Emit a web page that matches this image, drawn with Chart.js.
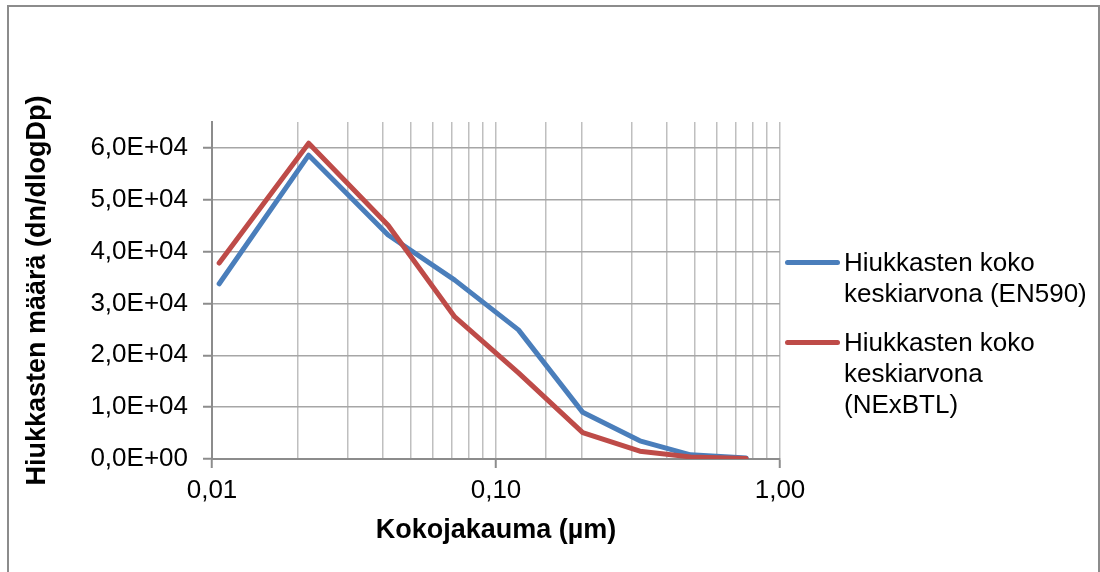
<!DOCTYPE html>
<html>
<head>
<meta charset="utf-8">
<script src="https://cdn.jsdelivr.net/npm/chart.js@4/dist/chart.umd.min.js"></script>
<style>
  html, body { margin: 0; padding: 0; background: #ffffff; }
  #wrap { position: relative; width: 1100px; height: 572px; overflow: hidden; }
  #frame { position: absolute; left: 7px; top: 5px; width: 1089px; height: 620px;
           border: 2px solid #8c8c8c; pointer-events: none; }
  #legend { position: absolute; left: 0; top: 0; width: 1100px; height: 572px; pointer-events: none;
            font-family: "Liberation Sans", Arial, sans-serif; font-size: 26px; line-height: 31px; color: #000; }
  .lg-item { position: absolute; left: 785px; width: 310px; }
  .lg-swatch { position: absolute; left: 0; width: 55px; height: 5px; border-radius: 3px; }
  .lg-text { position: absolute; left: 59px; width: 250px; }
</style>
</head>
<body>
<div id="wrap">
  <canvas id="c" width="1100" height="572"></canvas>
  <div id="legend"></div>
  <div id="frame"></div>
</div>
<script>
// ---- data ----
const sizes  = [0.0106, 0.0219, 0.0417, 0.0716, 0.120, 0.202, 0.321, 0.484, 0.76];
const en590  = [33800, 58600, 43200, 34500, 24900, 9000, 3500, 800, 200];
const nexbtl = [37800, 60900, 45100, 27400, 16600, 5100, 1500, 400, 100];
const seriesLabels = ['Hiukkasten koko keskiarvona (EN590)', 'Hiukkasten koko keskiarvona (NExBTL)'];
const seriesColors = ['#4a7ebb', '#be4b48'];
const xTickLabels = ['0,01', '0,10', '1,00'];
const yTickValues = [0, 10000, 20000, 30000, 40000, 50000, 60000];
const xTitle = 'Kokojakauma (µm)';
const yTitle = 'Hiukkasten määrä (dn/dlogDp)';

const FONT = '"Liberation Sans", Arial, sans-serif';
const toPts = (ys) => sizes.map((x, i) => ({ x: x, y: ys[i] }));
const isMajor = (v) => Math.abs(Math.log10(v) - Math.round(Math.log10(v))) < 1e-6;
const majorIndex = (v) => Math.round(Math.log10(v)) + 2; // 0.01 ->0, 0.1->1, 1->2

function fmtY(v) {
  if (v === 0) return '0,0E+00';
  const e = Math.floor(Math.log10(v));
  const m = v / Math.pow(10, e);
  return m.toFixed(1).replace('.', ',') + 'E+' + String(e).padStart(2, '0');
}

const drawOrder = [1, 0]; // red series drawn on top of blue
const datasets = [en590, nexbtl].map((ys, i) => ({
  label: seriesLabels[i],
  data: toPts(ys),
  order: drawOrder[i],
  borderColor: seriesColors[i],
  backgroundColor: seriesColors[i],
  borderWidth: 5,
  pointRadius: 0,
  pointHoverRadius: 0,
  tension: 0,
  borderCapStyle: 'round',
  borderJoinStyle: 'round',
  fill: false
}));

const chart = new Chart(document.getElementById('c'), {
  type: 'line',
  data: { datasets: datasets },
  options: {
    responsive: false,
    animation: false,
    events: [],
    layout: { padding: { left: 0, top: 122, right: 320, bottom: 25 } },
    plugins: { legend: { display: false }, tooltip: { enabled: false } },
    scales: {
      x: {
        type: 'logarithmic',
        min: 0.01,
        max: 1,
        border: { color: '#8c8c8c', width: 2 },
        grid: {
          color: '#bfbfbf',
          lineWidth: 1.5,
          tickLength: 9,
          tickColor: (ctx) => (ctx.tick && isMajor(ctx.tick.value)) ? '#8c8c8c' : 'rgba(0,0,0,0)',
          tickWidth: 2
        },
        ticks: {
          autoSkip: false,
          maxRotation: 0,
          padding: 7,
          color: '#000',
          font: { family: FONT, size: 26 },
          callback: (v) => isMajor(v) ? xTickLabels[majorIndex(v)] : ''
        },
        title: {
          display: true,
          text: xTitle,
          color: '#000',
          font: { family: FONT, size: 27, weight: 'bold' },
          padding: { top: 0, bottom: 0 }
        },
        afterFit: (s) => { s.height = 572 - 25 - 459; }
      },
      y: {
        type: 'linear',
        min: 0,
        max: 65000,
        border: { color: '#8c8c8c', width: 2 },
        grid: {
          color: '#a6a6a6',
          lineWidth: 1.5,
          tickLength: 9,
          tickColor: '#8c8c8c',
          tickWidth: 2
        },
        afterBuildTicks: (s) => { s.ticks = yTickValues.map(v => ({ value: v })); },
        ticks: {
          padding: 15,
          color: '#000',
          font: { family: FONT, size: 26 },
          callback: (v) => fmtY(v)
        },
        title: {
          display: true,
          text: yTitle,
          color: '#000',
          font: { family: FONT, size: 27, weight: 'bold' },
          padding: { top: 21, bottom: 0 }
        },
        afterFit: (s) => { s.width = 212; }
      }
    }
  }
});

// ---- HTML legend built from the datasets ----
const legendTops = [262, 342];
const lg = document.getElementById('legend');
chart.data.datasets.forEach((ds, i) => {
  const item = document.createElement('div');
  item.className = 'lg-item';
  item.style.top = (legendTops[i] - 15.5) + 'px';
  const sw = document.createElement('div');
  sw.className = 'lg-swatch';
  sw.style.background = ds.borderColor;
  sw.style.top = (15.5 - 2.5) + 'px';
  const tx = document.createElement('div');
  tx.className = 'lg-text';
  tx.textContent = ds.label;
  item.appendChild(sw);
  item.appendChild(tx);
  lg.appendChild(item);
});
</script>
</body>
</html>
